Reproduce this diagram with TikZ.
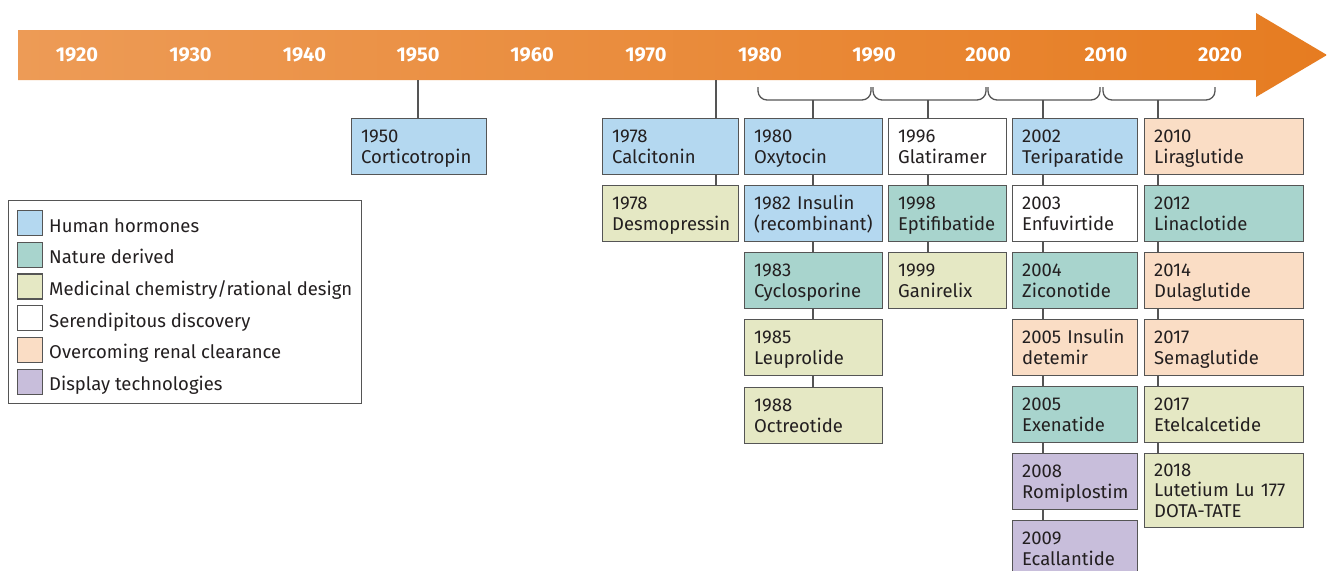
\documentclass[tikz,border=0pt]{standalone}
\usepackage{fontspec}
\setmainfont{Fira Sans}
\definecolor{hum}{RGB}{180,216,240}
\definecolor{nat}{RGB}{168,212,205}
\definecolor{med}{RGB}{229,232,196}
\definecolor{ren}{RGB}{250,221,197}
\definecolor{dis}{RGB}{200,190,219}
\definecolor{edge}{RGB}{85,85,85}
\definecolor{txt}{RGB}{35,31,32}
\definecolor{bandL}{RGB}{237,155,86}
\definecolor{bandR}{RGB}{230,124,33}
\begin{document}
\begin{tikzpicture}[x=1pt,y=-1pt,
  bx/.style={draw=edge, line width=1.3pt, anchor=north west, minimum height=56,
    inner xsep=9.5, inner ysep=0, align=left, text=txt,
    font=\fontsize{18.5}{20.5}\selectfont,
    execute at begin node={\rule{0pt}{18.4pt}}, execute at end node={\strut}},
  w50/.style={minimum width=135, text width=116},
  w78/.style={minimum width=136, text width=117},
  w80/.style={minimum width=138, text width=119},
  w90/.style={minimum width=118, text width=99},
  w00/.style={minimum width=125, text width=106},
  w10/.style={minimum width=159, text width=140},
  conn/.style={draw=edge, line width=1.3pt},
  brace/.style={draw=edge, line width=1.3pt, rounded corners=9},
  yr/.style={text=white, font=\fontsize{20}{22}\selectfont\bfseries, anchor=center},
  sw/.style={draw=edge, line width=1.3pt, anchor=north west, minimum size=25, inner sep=0},
  lt/.style={anchor=base west, text=txt, inner sep=0, font=\fontsize{18.5}{20}\selectfont},
]
\useasboundingbox (0,0) rectangle (1327,570);
\fill[white] (0,0) rectangle (1327,570);

% timeline arrow
\shade[left color=bandL, right color=bandR]
  (18,30) -- (1256,30) -- (1256,13) -- (1327,55) -- (1256,97) -- (1256,80) -- (18,80) -- cycle;

\node[yr] (y1920) at (77,55) {1920};
\node[yr] (y1930) at (190.5,55) {1930};
\node[yr] (y1940) at (304.5,55) {1940};
\node[yr] (y1950) at (418,55) {1950};
\node[yr] (y1960) at (532,55) {1960};
\node[yr] (y1970) at (646,55) {1970};
\node[yr] (y1980) at (760,55) {1980};
\node[yr] (y1990) at (874,55) {1990};
\node[yr] (y2000) at (988,55) {2000};
\node[yr] (y2010) at (1106,55) {2010};
\node[yr] (y2020) at (1220,55) {2020};

% stems
\coordinate (t50) at (418,80);
\coordinate (t78) at (716,80);
\coordinate (s80) at (813,100);
\coordinate (s90) at (928,100);
\coordinate (s00) at (1043,100);
\coordinate (s10) at (1158,100);

% braces
\draw[brace] (758,87) -- (758,100) -- (871,100) -- (871,87);
\draw[brace] (873,87) -- (873,100) -- (986,100) -- (986,87);
\draw[brace] (988,87) -- (988,100) -- (1100,100) -- (1100,87);
\draw[brace] (1103,87) -- (1103,100) -- (1215,100) -- (1215,87);

% boxes
\node[bx,w50,fill=hum] (a1) at (351,118) {1950\\Corticotropin};

\node[bx,w78,fill=hum] (b1) at (602,118) {1978\\Calcitonin};
\node[bx,w78,fill=med] (b2) at (602,185) {1978\\Desmopressin};

\node[bx,w80,fill=hum] (c1) at (744,118) {1980\\Oxytocin};
\node[bx,w80,fill=hum] (c2) at (744,185) {1982 Insulin\\(recombinant)};
\node[bx,w80,fill=nat] (c3) at (744,252) {1983\\Cyclosporine};
\node[bx,w80,fill=med] (c4) at (744,319) {1985\\Leuprolide};
\node[bx,w80,fill=med] (c5) at (744,387) {1988\\Octreotide};

\node[bx,w90,fill=white] (d1) at (888,118) {1996\\Glatiramer};
\node[bx,w90,fill=nat] (d2) at (888,185) {1998\\Eptifibatide};
\node[bx,w90,fill=med] (d3) at (888,252) {1999\\Ganirelix};

\node[bx,w00,fill=hum] (e1) at (1012,118) {2002\\Teriparatide};
\node[bx,w00,fill=white] (e2) at (1012,185) {2003\\Enfuvirtide};
\node[bx,w00,fill=nat] (e3) at (1012,252) {2004\\Ziconotide};
\node[bx,w00,fill=ren] (e4) at (1012,319) {2005 Insulin\\detemir};
\node[bx,w00,fill=nat] (e5) at (1012,386) {2005\\Exenatide};
\node[bx,w00,fill=dis] (e6) at (1012,453) {2008\\Romiplostim};
\node[bx,w00,fill=dis] (e7) at (1012,520) {2009\\Ecallantide};

\node[bx,w10,fill=ren] (f1) at (1144,118) {2010\\Liraglutide};
\node[bx,w10,fill=nat] (f2) at (1144,185) {2012\\Linaclotide};
\node[bx,w10,fill=ren] (f3) at (1144,252) {2014\\Dulaglutide};
\node[bx,w10,fill=ren] (f4) at (1144,319) {2017\\Semaglutide};
\node[bx,w10,fill=med] (f5) at (1144,386) {2017\\Etelcalcetide};
\node[bx,w10,fill=med,minimum height=74] (f6) at (1144,453) {2018\\Lutetium Lu 177\\DOTA-TATE};

% connectors
\draw[conn] (t50) -- (a1.north -| t50);
\draw[conn] (t78) -- (b1.north -| t78);
\draw[conn] (b1.south -| t78) -- (b2.north -| t78);
\draw[conn] (s80) -- (c1.north -| s80);
\draw[conn] (c1.south -| s80) -- (c2.north -| s80);
\draw[conn] (c2.south -| s80) -- (c3.north -| s80);
\draw[conn] (c3.south -| s80) -- (c4.north -| s80);
\draw[conn] (c4.south -| s80) -- (c5.north -| s80);
\draw[conn] (s90) -- (d1.north -| s90);
\draw[conn] (d1.south -| s90) -- (d2.north -| s90);
\draw[conn] (d2.south -| s90) -- (d3.north -| s90);
\draw[conn] (s00) -- (e1.north -| s00);
\draw[conn] (e1.south -| s00) -- (e2.north -| s00);
\draw[conn] (e2.south -| s00) -- (e3.north -| s00);
\draw[conn] (e3.south -| s00) -- (e4.north -| s00);
\draw[conn] (e4.south -| s00) -- (e5.north -| s00);
\draw[conn] (e5.south -| s00) -- (e6.north -| s00);
\draw[conn] (e6.south -| s00) -- (e7.north -| s00);
\draw[conn] (s10) -- (f1.north -| s10);
\draw[conn] (f1.south -| s10) -- (f2.north -| s10);
\draw[conn] (f2.south -| s10) -- (f3.north -| s10);
\draw[conn] (f3.south -| s10) -- (f4.north -| s10);
\draw[conn] (f4.south -| s10) -- (f5.north -| s10);
\draw[conn] (f5.south -| s10) -- (f6.north -| s10);

% legend
\node[draw=edge, line width=1.3pt, anchor=north west, minimum width=353, minimum height=203, inner sep=0] (leg) at (8,200) {};
\node[sw,fill=hum] (k1) at (17,210) {};
\node[sw,fill=nat] (k2) at (17,241.7) {};
\node[sw,fill=med] (k3) at (17,273.4) {};
\node[sw,fill=white] (k4) at (17,305.1) {};
\node[sw,fill=ren] (k5) at (17,336.8) {};
\node[sw,fill=dis] (k6) at (17,368.5) {};
\node[lt] (l1) at (49,232) {Human hormones};
\node[lt] (l2) at (49,263.7) {Nature derived};
\node[lt] (l3) at (49,295.4) {Medicinal chemistry/rational design};
\node[lt] (l4) at (49,327.1) {Serendipitous discovery};
\node[lt] (l5) at (49,358.8) {Overcoming renal clearance};
\node[lt] (l6) at (49,390.5) {Display technologies};
\end{tikzpicture}
\end{document}
